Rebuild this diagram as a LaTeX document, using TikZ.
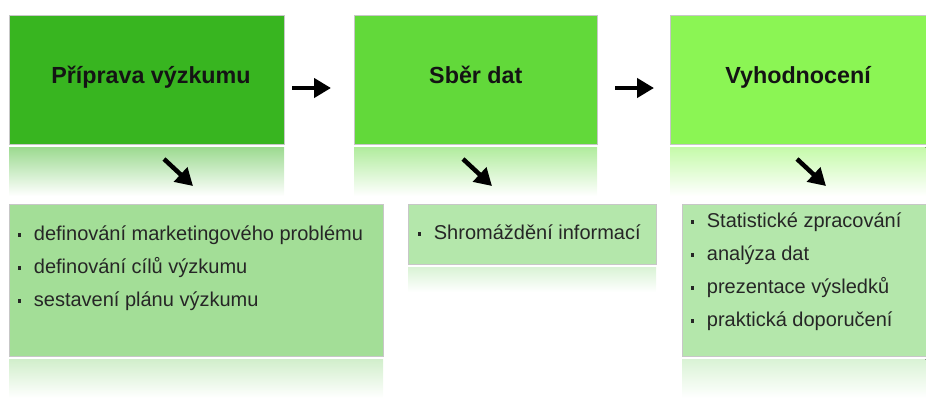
\documentclass[tikz,border=0pt]{standalone}
\usepackage{fontspec}
\setmainfont{Liberation Sans}
\usetikzlibrary{arrows.meta}

\definecolor{stepA}{HTML}{38B520}
\definecolor{stepB}{HTML}{62D93A}
\definecolor{stepC}{HTML}{8BF554}
\definecolor{listA}{HTML}{A3DE97}
\definecolor{listB}{HTML}{B4E7AB}

\newcommand{\sqbullet}{\rule[3.5pt]{3.2pt}{3.2pt}\hspace{12.5pt}}

\tikzset{
  box/.style={draw=black!22, line width=0.7pt, anchor=north west, inner sep=0pt},
  title/.style={font=\fontsize{23.3}{27}\selectfont\bfseries, text=black!92, anchor=base, inner sep=0pt},
  item/.style={font=\fontsize{20}{24}\selectfont, text=black!85, anchor=base west, inner sep=0pt},
  flow/.style={line width=4.5pt, -{Triangle[length=17pt,width=19pt]}},
  mirror/.style={top color=#1!50!white, bottom color=white, draw=none},
}

\begin{document}
\begin{tikzpicture}[x=1pt, y=-1pt]
  \useasboundingbox (0,0) rectangle (926,399);

  % reflections under the boxes
  \fill[mirror=stepA] (9,147) rectangle (284,196);
  \fill[mirror=stepB] (354,147) rectangle (597,196);
  \fill[mirror=stepC] (670,147) rectangle (925.5,196);
  \fill[mirror=listA] (9,359) rectangle (383,398);
  \fill[mirror=listB] (408,267) rectangle (656,292);
  \fill[mirror=listB] (682,359) rectangle (925.5,398);

  % the three stages
  \node[box, fill=stepA, minimum width=275pt, minimum height=129pt] (b1) at (9,15) {};
  \node[box, fill=stepB, minimum width=243pt, minimum height=129pt] (b2) at (354,15) {};
  \node[box, fill=stepC, minimum width=255.5pt, minimum height=129pt] (b3) at (670,15) {};

  \node[title] (t1) at (151,83) {Příprava výzkumu};
  \node[title] (t2) at (b2.center |- 0,83) {Sběr dat};
  \node[title] (t3) at (b3.center |- 0,83) {Vyhodnocení};

  % activity lists
  \node[box, fill=listA, minimum width=374pt, minimum height=152pt] (l1) at (9,204) {};
  \node[box, fill=listB, minimum width=248pt, minimum height=60pt] (l2) at (408,204) {};
  \node[box, fill=listB, minimum width=243.5pt, minimum height=152pt] (l3) at (682,204) {};

  \node[item] (a1) at (18,240) {\sqbullet definování marketingového problému};
  \node[item] (a2) at (18,273) {\sqbullet definování cílů výzkumu};
  \node[item] (a3) at (18,306) {\sqbullet sestavení plánu výzkumu};

  \node[item] (s1) at (418,239) {\sqbullet Shromáždění informací};

  \node[item] (v1) at (691,227) {\sqbullet Statistické zpracování};
  \node[item] (v2) at (691,260) {\sqbullet analýza dat};
  \node[item] (v3) at (691,293) {\sqbullet prezentace výsledků};
  \node[item] (v4) at (691,326) {\sqbullet praktická doporučení};

  % arrows between the stages
  \coordinate (h1s) at (292,88);  \coordinate (h1e) at (331,88);
  \coordinate (h2s) at (615,88);  \coordinate (h2e) at (654,88);
  \draw[flow] (h1s) -- (h1e);
  \draw[flow] (h2s) -- (h2e);

  % arrows down to the lists
  \coordinate (d1s) at (164,159); \coordinate (d1e) at (193,186);
  \coordinate (d2s) at (463,159); \coordinate (d2e) at (492,186);
  \coordinate (d3s) at (797,159); \coordinate (d3e) at (826,186);
  \draw[flow] (d1s) -- (d1e);
  \draw[flow] (d2s) -- (d2e);
  \draw[flow] (d3s) -- (d3e);
\end{tikzpicture}
\end{document}
